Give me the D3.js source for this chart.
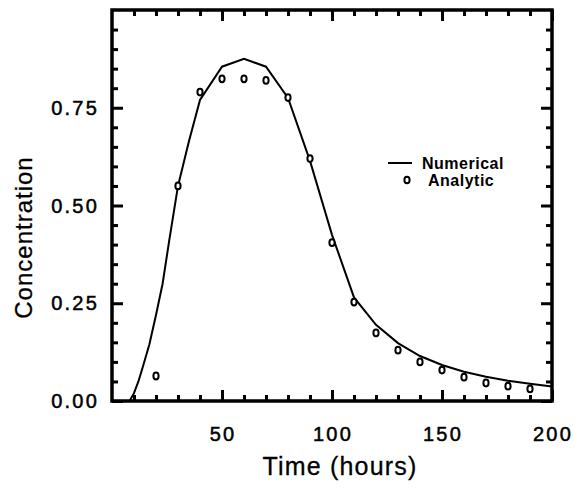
<!DOCTYPE html>
<html>
<head>
<meta charset="utf-8">
<script src="https://cdn.jsdelivr.net/npm/d3@7"></script>
<style>
  body { margin: 0; background: #fff; }
</style>
</head>
<body>
<div id="chart"></div>
<script>
// numerical solution (time in hours, concentration)
var numTime = [8, 10, 12, 14, 17, 20, 23, 26, 30, 35, 40, 50, 60, 70, 80, 90, 100, 110, 120, 130, 140, 150, 160, 170, 180, 190, 200];
var numConc = [0.0, 0.02, 0.05, 0.087, 0.145, 0.22, 0.30, 0.41, 0.55, 0.665, 0.77, 0.855, 0.875, 0.855, 0.775, 0.614, 0.425, 0.265, 0.195, 0.148, 0.115, 0.092, 0.075, 0.062, 0.052, 0.044, 0.037];

// analytic solution
var anaTime = [20, 30, 40, 50, 60, 70, 80, 90, 100, 110, 120, 130, 140, 150, 160, 170, 180, 190];
var anaConc = [0.064, 0.55, 0.79, 0.824, 0.824, 0.82, 0.776, 0.62, 0.405, 0.253, 0.174, 0.13, 0.10, 0.079, 0.061, 0.046, 0.038, 0.031];

var xTicks = [50, 100, 150, 200];
var yTicks = [0.00, 0.25, 0.50, 0.75];
var xMinorTicks = [10, 20, 30, 40, 60, 70, 80, 90, 110, 120, 130, 140, 160, 170, 180, 190];
var yMinorTicks = [0.05, 0.10, 0.15, 0.20, 0.30, 0.35, 0.40, 0.45, 0.55, 0.60, 0.65, 0.70, 0.80, 0.85, 0.90, 0.95];

const margin = { top: 10, right: 23, bottom: 89, left: 112 },
    width = 575 - margin.left - margin.right,
    height = 490 - margin.top - margin.bottom;

const root = d3.select("#chart")
    .append("svg")
    .attr("width", 575)
    .attr("height", 490);
const svg = root.append("g")
    .attr("transform", `translate(${margin.left},${margin.top})`);

const x = d3.scaleLinear().domain([0, 200]).range([0, width]);
const y = d3.scaleLinear().domain([0, 1.0]).range([height, 0]);

// inward ticks, major + minor, on all four sides
function addTicks(axis, tr, vals, len) {
    var g = svg.append("g")
        .attr("transform", tr)
        .call(axis.tickValues(vals).tickSizeInner(-len).tickSizeOuter(0).tickFormat(""));
    g.select(".domain").remove();
    g.selectAll(".tick line").attr("stroke", "#000").attr("stroke-width", 3);
}
addTicks(d3.axisBottom(x), `translate(0,${height})`, xMinorTicks, 6);
addTicks(d3.axisBottom(x), `translate(0,${height})`, xTicks, 11);
addTicks(d3.axisTop(x), "translate(0,0)", xMinorTicks, 6);
addTicks(d3.axisTop(x), "translate(0,0)", xTicks, 11);
addTicks(d3.axisLeft(y), "translate(0,0)", yMinorTicks, 6);
addTicks(d3.axisLeft(y), "translate(0,0)", yTicks, 11);
addTicks(d3.axisRight(y), `translate(${width},0)`, yMinorTicks, 6);
addTicks(d3.axisRight(y), `translate(${width},0)`, yTicks, 11);

// frame
svg.append("rect")
    .attr("x", 0).attr("y", 0)
    .attr("width", width).attr("height", height)
    .attr("fill", "none").attr("stroke", "#000").attr("stroke-width", 3.5);

// numerical line
var numData = numTime.map((t, i) => ({ t: t, c: numConc[i] }));
svg.append("path")
    .datum(numData)
    .attr("fill", "none")
    .attr("stroke", "#000")
    .attr("stroke-width", 2)
    .attr("d", d3.line().x(d => x(d.t)).y(d => y(d.c)));

// analytic points
var anaData = anaTime.map((t, i) => ({ t: t, c: anaConc[i] }));
svg.selectAll(".ana").data(anaData).enter().append("ellipse")
    .attr("class", "ana")
    .attr("cx", d => x(d.t))
    .attr("cy", d => y(d.c))
    .attr("rx", 2.6).attr("ry", 3.4)
    .attr("fill", "#fff")
    .attr("stroke", "#000")
    .attr("stroke-width", 2);

// tick labels
var font = "Arial, 'Liberation Sans', sans-serif";
svg.selectAll(".xlab").data(xTicks).enter().append("text")
    .attr("class", "xlab")
    .attr("x", d => x(d) + 1)
    .attr("y", height + 40)
    .attr("text-anchor", "middle")
    .attr("font-family", font)
    .attr("font-size", 20)
    .attr("letter-spacing", 2.2)
    .attr("fill", "#000")
    .attr("stroke", "#000").attr("stroke-width", 0.5)
    .text(d => d);

svg.selectAll(".ylab").data(yTicks).enter().append("text")
    .attr("class", "ylab")
    .attr("x", -13)
    .attr("y", d => y(d) + 7)
    .attr("text-anchor", "end")
    .attr("font-family", font)
    .attr("font-size", 20)
    .attr("letter-spacing", 2.2)
    .attr("fill", "#000")
    .attr("stroke", "#000").attr("stroke-width", 0.5)
    .text(d => d.toFixed(2));

// axis titles
svg.append("text")
    .attr("x", width / 2 + 8)
    .attr("y", height + 74)
    .attr("text-anchor", "middle")
    .attr("font-family", font)
    .attr("font-size", 25)
    .attr("letter-spacing", 1.2)
    .attr("fill", "#000")
    .attr("stroke", "#000").attr("stroke-width", 0.3)
    .text("Time (hours)");

svg.append("text")
    .attr("transform", `translate(${-80},${height / 2 + 32}) rotate(-90)`)
    .attr("text-anchor", "middle")
    .attr("font-family", font)
    .attr("font-size", 24)
    .attr("letter-spacing", 1)
    .attr("fill", "#000")
    .attr("stroke", "#000").attr("stroke-width", 0.3)
    .text("Concentration");

// legend
var legend = svg.append("g").attr("transform", `translate(${276},${153})`);
legend.append("line").attr("x1", 0).attr("x2", 24).attr("y1", 0).attr("y2", 0)
    .attr("stroke", "#000").attr("stroke-width", 2);
legend.append("text").attr("x", 34).attr("y", 6)
    .attr("font-family", font).attr("font-size", 16).attr("font-weight", "bold")
    .attr("letter-spacing", 0.5).attr("fill", "#000")
    .text("Numerical");
legend.append("ellipse").attr("cx", 19).attr("cy", 17).attr("rx", 2.6).attr("ry", 3.2)
    .attr("fill", "#fff").attr("stroke", "#000").attr("stroke-width", 2);
legend.append("text").attr("x", 40).attr("y", 23)
    .attr("font-family", font).attr("font-size", 16).attr("font-weight", "bold")
    .attr("letter-spacing", 0.5).attr("fill", "#000")
    .text("Analytic");
</script>
</body>
</html>
